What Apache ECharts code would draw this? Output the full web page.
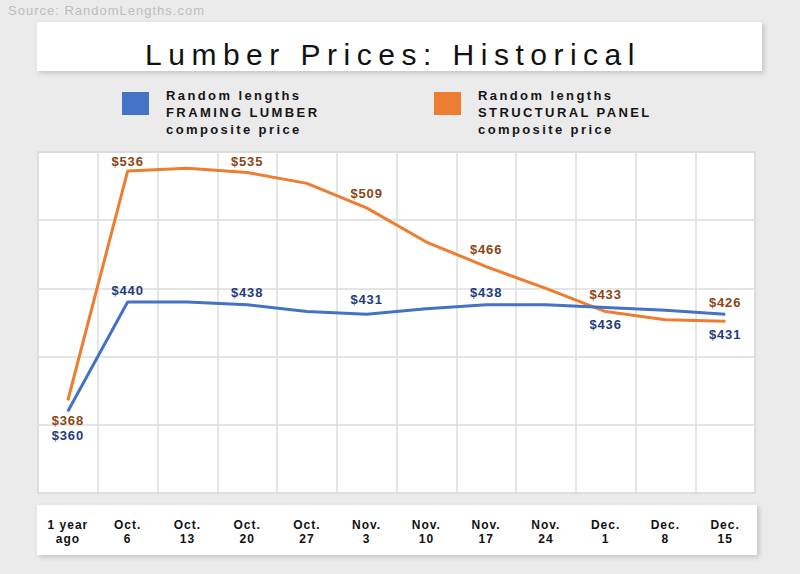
<!DOCTYPE html>
<html>
<head>
<meta charset="utf-8">
<script src="https://cdn.jsdelivr.net/npm/echarts@6/dist/echarts.min.js"></script>
<style>
html,body{margin:0;padding:0;background:#ebebeb;}
#main{width:800px;height:574px;}
</style>
</head>
<body>
<div id="main"></div>
<script>
// ---- data ----
const titleText = 'Lumber Prices: Historical';
const sourceText = 'Source: RandomLengths.com';
const categories = ['1 year\nago', 'Oct.\n6', 'Oct.\n13', 'Oct.\n20', 'Oct.\n27', 'Nov.\n3', 'Nov.\n10', 'Nov.\n17', 'Nov.\n24', 'Dec.\n1', 'Dec.\n8', 'Dec.\n15'];
const framingName = 'Random lengths\nFRAMING LUMBER\ncomposite price';
const panelName = 'Random lengths\nSTRUCTURAL PANEL\ncomposite price';
const framingValues = [360, 440, 440, 438, 433, 431, 435, 438, 438, 436, 434, 431];
const panelValues = [368, 536, 538, 535, 527, 509, 484, 466, 450, 433, 427, 426];
const yTicks = [300, 350, 400, 450, 500, 550];

// ---- label placement (style only) ----
const framingLabelPos = [['bottom', 17], ['top', 5], null, ['top', 5], null, ['top', 8], null, ['top', 5], null, ['bottom', 10], null, ['bottom', 13]];
const panelLabelPos = [['bottom', 13], ['top', 3], null, ['top', 4], null, ['top', 7], null, ['top', 10], null, ['top', 10], null, ['top', 12]];

function buildData(values, pos, color) {
  return values.map((v, i) => {
    const p = pos[i];
    if (!p) return { value: v, label: { show: false } };
    return { value: v, label: { show: true, position: p[0], distance: p[1], color: color } };
  });
}

const chart = echarts.init(document.getElementById('main'), null, { renderer: 'svg' });

const legendText = { fontFamily: 'Liberation Sans', fontSize: 13, fontWeight: 'bold', lineHeight: 17, color: '#151515', padding: [0, 0, 0, 12] };

const option = {
  backgroundColor: '#ebebeb',
  animation: false,
  graphic: [
    { type: 'text', left: 8, top: 4, style: { text: sourceText, font: '13px "Liberation Sans"', fill: '#bdbdbd' } },
    { type: 'rect', shape: { x: 37, y: 22, width: 725, height: 49 }, style: { fill: '#fff', shadowBlur: 5, shadowOffsetX: 2, shadowOffsetY: 2, shadowColor: 'rgba(0,0,0,0.18)' }, z: 0 },
    { type: 'text', x: 393, y: 54, style: { text: titleText, font: '30px "Liberation Sans"', fill: '#111', align: 'center', verticalAlign: 'middle' }, z: 1 },
    { type: 'rect', shape: { x: 37, y: 505, width: 720, height: 50 }, style: { fill: '#fff', shadowBlur: 5, shadowOffsetX: 2, shadowOffsetY: 2, shadowColor: 'rgba(0,0,0,0.18)' }, z: 0 }
  ],
  legend: [
    { data: [framingName], left: 122, top: 69.5, padding: 0, icon: 'rect', itemWidth: 27, itemHeight: 23, textStyle: legendText, selectedMode: false, formatter: n => '\n' + n },
    { data: [panelName], left: 434, top: 69.5, padding: 0, icon: 'rect', itemWidth: 27, itemHeight: 23, textStyle: legendText, selectedMode: false, formatter: n => '\n' + n }
  ],
  grid: { left: 38, right: 45, top: 152, bottom: 81, show: true, backgroundColor: '#fff', borderColor: '#d6d6d6', borderWidth: 1.5 },
  xAxis: {
    type: 'category',
    data: categories,
    boundaryGap: true,
    axisLine: { show: false },
    axisTick: { show: false },
    splitLine: { show: true, interval: 0, lineStyle: { color: '#dcdcdc', width: 1.5 } },
    axisLabel: { interval: 0, margin: 25, fontFamily: 'Liberation Sans', fontSize: 12, fontWeight: 'bold', lineHeight: 14, color: '#111' }
  },
  yAxis: {
    type: 'value',
    min: yTicks[0],
    max: yTicks[yTicks.length - 1],
    interval: yTicks[1] - yTicks[0],
    axisLine: { show: false },
    axisTick: { show: false },
    axisLabel: { show: false },
    splitLine: { show: true, lineStyle: { color: '#dcdcdc', width: 1.5 } }
  },
  series: [
    {
      name: framingName, type: 'line', symbol: 'circle', symbolSize: 1, showSymbol: true, z: 3,
      data: buildData(framingValues, framingLabelPos, '#1f3c7c'),
      lineStyle: { color: '#4472c4', width: 3 }, itemStyle: { color: '#4472c4' },
      label: { fontFamily: 'Liberation Sans', fontSize: 13, fontWeight: 'bold', formatter: p => '$' + p.value }
    },
    {
      name: panelName, type: 'line', symbol: 'circle', symbolSize: 1, showSymbol: true, z: 2,
      data: buildData(panelValues, panelLabelPos, '#8c4614'),
      lineStyle: { color: '#ed7d31', width: 3 }, itemStyle: { color: '#ed7d31' },
      label: { fontFamily: 'Liberation Sans', fontSize: 13, fontWeight: 'bold', formatter: p => '$' + p.value }
    }
  ]
};

chart.setOption(option);

// letter spacing to mimic the widely tracked typography of the original
const legendLines = (framingName + '\n' + panelName).split('\n');
const catLines = categories.join('\n').split('\n');
function applySpacing() {
  const texts = document.querySelectorAll('#main svg text');
  texts.forEach(t => {
    const s = t.textContent;
    let ls = null;
    if (s === titleText) ls = '6.5px';
    else if (s === sourceText) ls = '1px';
    else if (legendLines.indexOf(s) >= 0) ls = '2.4px';
    else if (s.charAt(0) === '$') ls = '0.8px';
    else if (catLines.indexOf(s) >= 0) ls = '1px';
    if (ls) { t.style.letterSpacing = ls; t.setAttribute('letter-spacing', ls); }
  });
}
applySpacing();
chart.on('finished', applySpacing);
setTimeout(applySpacing, 50);
</script>
</body>
</html>
